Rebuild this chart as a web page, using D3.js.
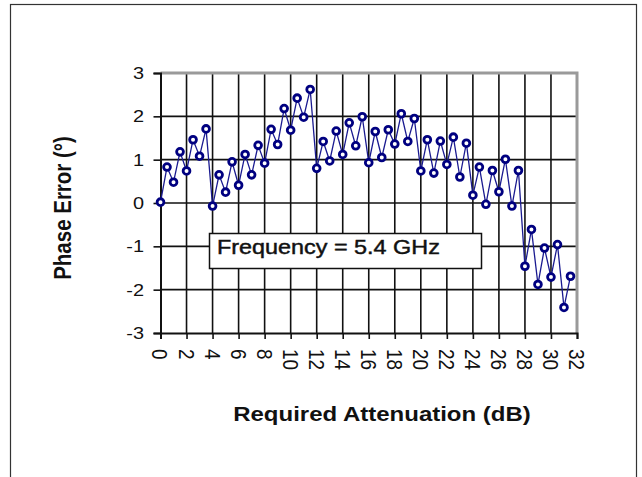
<!DOCTYPE html>
<html>
<head>
<meta charset="utf-8">
<script src="https://cdn.jsdelivr.net/npm/d3@7"></script>
<style>
  html, body { margin: 0; padding: 0; background: #fff; }
  svg { display: block; }
  text { font-family: "Liberation Sans", Arial, sans-serif; fill: #111; }
</style>
</head>
<body>
<svg id="chart" width="642" height="477"></svg>
<script>
// Phase error vs. attenuation state (0.5 dB steps, 64 states)
const attenuation = d3.range(64).map(i => i * 0.5);
const phaseError = [
  0.02, 0.83, 0.48, 1.18, 0.74, 1.46, 1.08, 1.71,
  -0.07, 0.65, 0.25, 0.95, 0.41, 1.12, 0.65, 1.33,
  0.92, 1.70, 1.35, 2.18, 1.68, 2.42, 1.98, 2.62,
  0.80, 1.42, 0.97, 1.66, 1.12, 1.85, 1.32, 1.99,
  0.93, 1.65, 1.05, 1.69, 1.36, 2.06, 1.42, 1.95,
  0.74, 1.46, 0.69, 1.43, 0.89, 1.52, 0.60, 1.38,
  0.18, 0.83, -0.03, 0.75, 0.26, 1.01, -0.07, 0.75,
  -1.46, -0.61, -1.88, -1.04, -1.71, -0.96, -2.41, -1.69
];
const xTicks = d3.range(0, 33, 2);
const yTicks = [-3, -2, -1, 0, 1, 2, 3];
const legendText = "Frequency = 5.4 GHz";
const xTitle = "Required Attenuation (dB)";
const yTitle = "Phase Error (°)";

const svg = d3.select("#chart");
const SX = 1.17; // horizontal glyph stretch

// outer frame
svg.append("rect")
  .attr("x", 10.5).attr("y", 4.5).attr("width", 626).attr("height", 500)
  .attr("fill", "none").attr("stroke", "#333").attr("stroke-width", 1.2);

const plot = { left: 160.5, right: 577, top: 73, bottom: 333 };
const x = d3.scaleLinear().domain([0, 32]).range([plot.left, plot.right]);
const y = d3.scaleLinear().domain([-3, 3]).range([plot.bottom, plot.top]);

// gridlines
const grid = svg.append("g");
grid.selectAll("line.v").data(xTicks.filter(t => t > 0 && t < 32)).join("line")
  .attr("x1", d => x(d)).attr("x2", d => x(d))
  .attr("y1", plot.top).attr("y2", plot.bottom)
  .attr("stroke", "#111").attr("stroke-width", 1.6);
grid.selectAll("line.h").data(yTicks.filter(t => t > -3 && t < 3)).join("line")
  .attr("x1", plot.left).attr("x2", plot.right)
  .attr("y1", d => y(d)).attr("y2", d => y(d))
  .attr("stroke", "#111").attr("stroke-width", 1.6);

// plot-area border (top/right grey)
svg.append("path")
  .attr("d", `M${plot.left},${plot.top}H${plot.right}V${plot.bottom}`)
  .attr("fill", "none").attr("stroke", "#9a9a9a").attr("stroke-width", 3);

// axes
const xAxis = d3.axisBottom(x).tickValues(xTicks).tickSize(6).tickFormat("");
const yAxis = d3.axisLeft(y).tickValues(yTicks).tickSize(7).tickFormat("");
const gx = svg.append("g").attr("transform", `translate(0,${plot.bottom})`).call(xAxis);
const gy = svg.append("g").attr("transform", `translate(${plot.left},0)`).call(yAxis);
[gx, gy].forEach(g => {
  g.select(".domain").attr("stroke", "#111").attr("stroke-width", 2);
  g.selectAll(".tick line").attr("stroke", "#111").attr("stroke-width", 1.6);
});

// y tick labels
svg.append("g").selectAll("text").data(yTicks).join("text")
  .attr("transform", d => `translate(144,${y(d)}) scale(${SX},1)`)
  .attr("text-anchor", "end").attr("dy", "0.36em")
  .style("font-size", "17px")
  .text(d => d);

// x tick labels, rotated to read downward
svg.append("g").selectAll("text").data(xTicks).join("text")
  .attr("transform", d => `translate(${x(d)},349) scale(${SX},1) rotate(90)`)
  .attr("text-anchor", "start").attr("dy", "0.36em")
  .style("font-size", "19px")
  .text(d => d);

// series line
svg.append("path")
  .datum(phaseError)
  .attr("fill", "none").attr("stroke", "#1a1a90").attr("stroke-width", 1.3)
  .attr("d", d3.line().x((d, i) => x(attenuation[i])).y(d => y(d)));

// markers
svg.append("g").selectAll("circle").data(phaseError).join("circle")
  .attr("cx", (d, i) => x(attenuation[i])).attr("cy", d => y(d))
  .attr("r", 3.4)
  .attr("fill", "#fff").attr("stroke", "#000080").attr("stroke-width", 2.8);

// legend box
svg.append("rect")
  .attr("x", 209.5).attr("y", 233.5).attr("width", 272).attr("height", 35)
  .attr("fill", "#fff").attr("stroke", "#111").attr("stroke-width", 1.5);
svg.append("text")
  .attr("transform", `translate(217,254) scale(${SX},1)`)
  .style("font-size", "20px")
  .style("stroke", "#111").style("stroke-width", 0.45)
  .text(legendText);

// axis titles
svg.append("text")
  .attr("transform", `translate(382,421) scale(1.2,1)`)
  .attr("text-anchor", "middle")
  .style("font-size", "20px").style("font-weight", "bold")
  .text(xTitle);
svg.append("text")
  .attr("transform", `translate(71,208) scale(${SX},1) rotate(-90)`)
  .attr("text-anchor", "middle")
  .style("font-size", "20.5px").style("font-weight", "bold")
  .text(yTitle);
</script>
</body>
</html>
